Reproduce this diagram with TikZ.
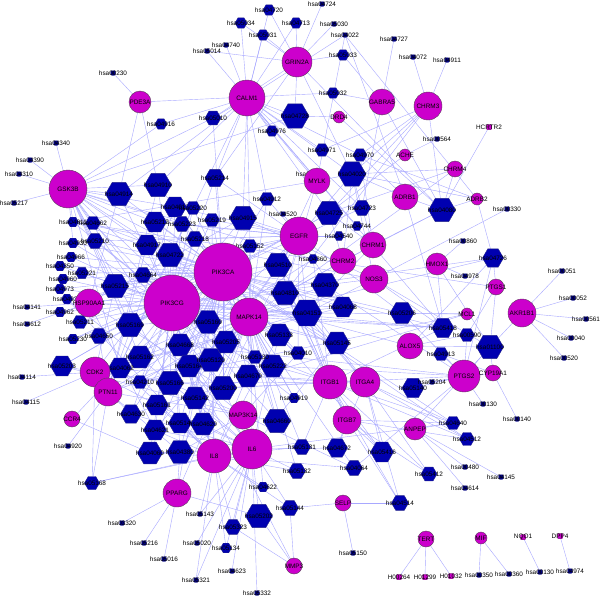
\documentclass[tikz,border=0pt]{standalone}
\usepackage{fontspec}
\setmainfont{Liberation Sans}
\usetikzlibrary{shapes.geometric}
\pgfdeclarelayer{bg}
\pgfsetlayers{bg,main}
\definecolor{gmag}{RGB}{204,0,204}
\definecolor{pblue}{RGB}{0,0,176}
\definecolor{sblue}{RGB}{0,0,130}
\definecolor{edgec}{RGB}{168,168,255}
\tikzset{
 gene/.style={circle,draw={rgb,255:red,90;green,60;blue,90},fill=gmag,line width=0.4pt,inner sep=0pt},
 pathw/.style={regular polygon,regular polygon sides=6,draw={rgb,255:red,40;green,40;blue,140},fill=pblue,line width=0.4pt,inner sep=0pt},
 dotb/.style={rectangle,rounded corners=1pt,fill=sblue,draw=sblue,minimum size=4.5pt,inner sep=0pt},
 dotm/.style={rectangle,rounded corners=1pt,fill=gmag,draw={rgb,255:red,90;green,60;blue,90},line width=0.3pt,minimum size=5.5pt,inner sep=0pt},
 lbl/.style={font=\fontsize{6.4}{7}\selectfont,text=black,inner sep=0pt},
 edge/.style={draw=edgec,line width=0.4pt},
}
\newcommand\gn[5]{\node[gene,minimum size=#4pt] (#1) at (#2,#3) {}; \node[lbl] at (#1.center) {#5};}
\newcommand\hx[5]{\node[pathw,minimum size=#4pt] (#1) at (#2,#3) {}; \node[lbl] at (#1.center) {#5};}
\newcommand\sd[4]{\node[dotb] (#1) at (#2,#3) {}; \node[lbl] at (#1.center) {#4};}
\newcommand\sm[4]{\node[dotm] (#1) at (#2,#3) {}; \node[lbl] at (#1.center) {#4};}
\newcommand\E[2]{\foreach \tg in {#2}{\draw[edge] (#1) -- (\tg);}}
\begin{document}
\begin{tikzpicture}[x=1pt,y=-1pt]
\useasboundingbox (0,0) rectangle (600,597);
% ---------- pathway hexagons ----------
\hx{h04910}{158}{185}{27}{hsa04910}
\hx{h04914}{119}{194}{27}{hsa04914}
\hx{h04916}{161}{124}{12}{hsa04916}
\hx{h04720}{269}{10}{12}{hsa04720}
\hx{h05034}{241}{23}{12}{hsa05034}
\hx{h04713}{296}{23}{12}{hsa04713}
\hx{h05031}{263}{35}{12}{hsa05031}
\hx{h05033}{343}{55}{12}{hsa05033}
\hx{h05032}{333}{93}{12}{hsa05032}
\hx{h04728}{295}{116}{28}{hsa04728}
\hx{h05010}{213}{118}{16}{hsa05010}
\hx{h04976}{272}{131}{12}{hsa04976}
\hx{h04971}{322}{150}{14}{hsa04971}
\hx{h04970}{360}{155}{14}{hsa04970}
\hx{h04020}{352}{174}{28}{hsa04020}
\hx{h05214}{215}{178}{20}{hsa05214}
\hx{h04912}{267}{199}{15}{hsa04912}
\hx{h04080}{442}{210}{27}{hsa04080}
\hx{h04726}{493}{258}{21}{hsa04726}
\hx{h05206}{402}{313}{24}{hsa05206}
\hx{h05418}{443}{328}{22}{hsa05418}
\hx{h00590}{467}{335}{15}{hsa00590}
\hx{h01100}{490}{347}{27}{hsa01100}
\hx{h04913}{441}{354}{15}{hsa04913}
\hx{h05140}{413}{388}{22}{hsa05140}
\hx{h04640}{453}{423}{15}{hsa04640}
\hx{h04512}{467}{439}{15}{hsa04512}
\hx{h05412}{429}{474}{16}{hsa05412}
\hx{h04514}{400}{503}{17}{hsa04514}
\hx{h04919}{294}{398}{11}{hsa04919}
\hx{h04660}{277}{421}{27}{hsa04660}
\hx{h05131}{302}{447}{17}{hsa05131}
\hx{h04672}{337}{448}{21}{hsa04672}
\hx{h05416}{382}{452}{23}{hsa05416}
\hx{h04064}{354}{468}{17}{hsa04064}
\hx{h05132}{297}{471}{17}{hsa05132}
\hx{h04622}{263}{487}{11}{hsa04622}
\hx{h05144}{290}{508}{17}{hsa05144}
\hx{h05202}{259}{516}{27}{hsa05202}
\hx{h05323}{233}{527}{17}{hsa05323}
\hx{h05134}{226}{548}{11}{hsa05134}
\hx{h04630}{131}{414}{21}{hsa04630}
\hx{h05161}{157}{405}{23}{hsa05161}
\hx{h04621}{155}{430}{23}{hsa04621}
\hx{h05146}{180}{423}{23}{hsa05146}
\hx{h04620}{203}{424}{25}{hsa04620}
\hx{h04060}{150}{453}{25}{hsa04060}
\hx{h04380}{180}{452}{26}{hsa04380}
\hx{h05168}{92}{483}{15}{hsa05168}
\hx{h05142}{195}{398}{25}{hsa05142}
\hx{h05200}{223}{388}{27}{hsa05200}
\hx{h04670}{248}{376}{25}{hsa04670}
\hx{h05222}{273}{366}{25}{hsa05222}
\hx{h05130}{255}{357}{15}{hsa05130}
\hx{h04010}{298}{353}{15}{hsa04010}
\hx{h05133}{279}{335}{25}{hsa05133}
\hx{h05145}{337}{343}{25}{hsa05145}
\hx{h04068}{343}{307}{23}{hsa04068}
\hx{h04151}{307}{313}{30}{hsa04151}
\hx{h04370}{325}{285}{27}{hsa04370}
\hx{h04810}{285}{293}{27}{hsa04810}
\hx{h04360}{313}{259}{10}{hsa04360}
\hx{h04510}{278}{265}{27}{hsa04510}
\hx{h05152}{250}{246}{15}{hsa05152}
\hx{h04725}{329}{213}{27}{hsa04725}
\hx{h04723}{362}{208}{17}{hsa04723}
\hx{h04744}{357}{226}{10}{hsa04744}
\hx{h04540}{339}{236}{10}{hsa04540}
\hx{h04915}{243}{218}{27}{hsa04915}
\hx{h05219}{212}{220}{15}{hsa05219}
\hx{h04012}{175}{207}{23}{hsa04012}
\hx{h05220}{193}{208}{15}{hsa05220}
\hx{h05212}{155}{222}{23}{hsa05212}
\hx{h05223}{182}{224}{17}{hsa05223}
\hx{h05218}{195}{239}{17}{hsa05218}
\hx{h04917}{147}{245}{23}{hsa04917}
\hx{h04722}{170}{255}{27}{hsa04722}
\hx{h04664}{143}{275}{17}{hsa04664}
\hx{h05215}{115}{286}{27}{hsa05215}
\hx{h04662}{93}{223}{15}{hsa04662}
\hx{h04611}{73}{222}{11}{hsa04611}
\hx{h05210}{95}{241}{17}{hsa05210}
\hx{h04930}{73}{243}{11}{hsa04930}
\hx{h04966}{71}{257}{11}{hsa04966}
\hx{h04350}{60}{266}{11}{hsa04350}
\hx{h05221}{82}{273}{13}{hsa05221}
\hx{h04960}{63}{279}{11}{hsa04960}
\hx{h04973}{60}{289}{11}{hsa04973}
\hx{h04933}{67}{299}{11}{hsa04933}
\hx{h04962}{60}{312}{11}{hsa04962}
\hx{h05211}{80}{322}{15}{hsa05211}
\hx{h05169}{130}{325}{27}{hsa05169}
\hx{h05230}{73}{339}{11}{hsa05230}
\hx{h04650}{99}{336}{17}{hsa04650}
\hx{h04668}{180}{345}{25}{hsa04668}
\hx{h05162}{140}{357}{25}{hsa05162}
\hx{h05203}{62}{366}{23}{hsa05203}
\hx{h04062}{120}{368}{23}{hsa04062}
\hx{h05164}{189}{366}{25}{hsa05164}
\hx{h04210}{140}{382}{15}{hsa04210}
\hx{h05166}{170}{383}{27}{hsa05166}
\hx{h05120}{211}{360}{26}{hsa05120}
\hx{h05205}{226}{342}{25}{hsa05205}
\hx{h05160}{208}{322}{26}{hsa05160}
% ---------- small pathway nodes ----------
\sd{s00230}{113}{73}{hsa00230}
\sd{s04340}{56}{143}{hsa04340}
\sd{s04390}{30}{160}{hsa04390}
\sd{s04310}{19}{174}{hsa04310}
\sd{s05217}{14}{203}{hsa05217}
\sd{s04724}{322}{4}{hsa04724}
\sd{s05030}{334}{24}{hsa05030}
\sd{s04022}{345}{35}{hsa04022}
\sd{s04740}{226}{45}{hsa04740}
\sd{s05014}{207}{51}{hsa05014}
\sd{s04727}{394}{39}{hsa04727}
\sd{s04072}{413}{57}{hsa04072}
\sd{s04911}{447}{60}{hsa04911}
\sd{s00564}{437}{139}{hsa00564}
\sd{s00330}{507}{209}{hsa00330}
\sd{s00860}{463}{241}{hsa00860}
\sd{s04978}{465}{276}{hsa04978}
\sd{s00051}{562}{271}{hsa00051}
\sd{s00052}{573}{298}{hsa00052}
\sd{s00561}{586}{319}{hsa00561}
\sd{s00040}{571}{338}{hsa00040}
\sd{s00520}{564}{358}{hsa00520}
\sd{s05204}{432}{382}{hsa05204}
\sd{s04130}{483}{404}{hsa00130}
\sd{s00140}{517}{419}{hsa00140}
\sd{s00480}{465}{467}{hsa00480}
\sd{s04145}{501}{477}{hsa04145}
\sd{s04614}{465}{488}{hsa04614}
\sd{s00350}{479}{575}{hsa00350}
\sd{s00360}{509}{574}{hsa00360}
\sd{s00130}{540}{572}{hsa00130}
\sd{s04974}{570}{571}{hsa04974}
\sd{s05150}{353}{553}{hsa05150}
\sd{s05332}{257}{593}{hsa05332}
\sd{s04623}{232}{571}{hsa04623}
\sd{s05321}{196}{580}{hsa05321}
\sd{s05020}{197}{543}{hsa05020}
\sd{s05143}{200}{514}{hsa05143}
\sd{s03320}{122}{523}{hsa03320}
\sd{s05216}{144}{543}{hsa05216}
\sd{s05016}{164}{559}{hsa05016}
\sd{s04920}{68}{446}{hsa04920}
\sd{s04115}{26}{402}{hsa04115}
\sd{s04114}{22}{377}{hsa04114}
\sd{s04612}{27}{324}{hsa04612}
\sd{s04141}{27}{307}{hsa04141}
\sd{s04520}{283}{214}{hsa04520}
\sd{s04270}{310}{174}{hsa04270}
% ---------- small magenta nodes ----------
\sm{hcrtr2}{489}{127}{HCRTR2}
\sm{nqo1}{523}{537}{NQO1}
\sm{dpp4}{560}{536}{DPP4}
\sm{h264}{399}{577}{H00264}
\sm{h1299}{425}{577}{H01299}
\sm{h1032}{451}{576}{H01032}
% ---------- genes ----------
\gn{pik3ca}{223}{272}{58}{PIK3CA}
\gn{pik3cg}{172}{303}{56}{PIK3CG}
\gn{mapk14}{249}{317}{38}{MAPK14}
\gn{egfr}{299}{236}{38}{EGFR}
\gn{chrm2}{343}{261}{26}{CHRM2}
\gn{chrm1}{373}{245}{26}{CHRM1}
\gn{nos3}{374}{279}{28}{NOS3}
\gn{itgb1}{330}{382}{34}{ITGB1}
\gn{itga4}{365}{382}{30}{ITGA4}
\gn{calm1}{247}{98}{36}{CALM1}
\gn{grin2a}{297}{62}{30}{GRIN2A}
\gn{gabra5}{382}{102}{26}{GABRA5}
\gn{drd4}{339}{117}{12}{DRD4}
\gn{mylk}{317}{181}{26}{MYLK}
\gn{pde3a}{140}{102}{22}{PDE3A}
\gn{gsk3b}{68}{189}{38}{GSK3B}
\gn{chrm3}{428}{106}{28}{CHRM3}
\gn{ache}{405}{155}{12}{ACHE}
\gn{chrm4}{455}{169}{16}{CHRM4}
\gn{adrb1}{405}{197}{26}{ADRB1}
\gn{adrb2}{477}{199}{12}{ADRB2}
\gn{hsp}{89}{303}{28}{HSP90AA1}
\gn{cdk2}{95}{372}{30}{CDK2}
\gn{ptn}{108}{392}{28}{PTN11}
\gn{ccr4}{72}{419}{16}{CCR4}
\gn{pparg}{177}{493}{28}{PPARG}
\gn{map3k}{243}{415}{28}{MAP3K14}
\gn{il6}{252}{449}{40}{IL6}
\gn{il8}{214}{456}{34}{IL8}
\gn{itgb7}{347}{420}{28}{ITGB7}
\gn{selp}{343}{503}{16}{SELP}
\gn{mmp3}{294}{566}{16}{MMP3}
\gn{tert}{426}{539}{16}{TERT}
\gn{mif}{481}{538}{12}{MIF}
\gn{anpep}{415}{429}{22}{ANPEP}
\gn{ptgs2}{464}{376}{32}{PTGS2}
\gn{cyp}{493}{373}{16}{CYP19A1}
\gn{alox5}{410}{346}{26}{ALOX5}
\gn{akr}{522}{313}{28}{AKR1B1}
\gn{ptgs1}{496}{287}{16}{PTGS1}
\gn{mcl1}{467}{314}{12}{MCL1}
\gn{hmox1}{437}{264}{22}{HMOX1}
% ---------- connectors ----------
\begin{pgfonlayer}{bg}
\fill[white] (0,0) rectangle (600,597);
\E{pik3ca}{h04910,h04914,h04012,h05220,h05212,h05223,h05218,h04917,h04722,h04664,h05215,h05214,h04915,h05219,h05152,h04510,h04810,h04370,h04151,h04068,h05133,h05145,h04010,h05130,h05222,h04670,h05200,h05205,h05160,h05120,h05164,h05166,h04668,h05162,h05169,h04062,h04210,h05142,h05161,h04630,h04660,h04620,h04650,h04662,h05210,h05211,h04960,h04973,h04933,h04930,h04611,h04919,h04380,h04060,h04725,h04723,h04912,h05418,h05206,h05146,h05221,h05203,h04640,h04512,h05416,h05010,h04966,h04350,h04962,h05230}
\E{pik3cg}{h04910,h04914,h04012,h05220,h05212,h05223,h05218,h04917,h04722,h04664,h05215,h04915,h04510,h04810,h04370,h04151,h04068,h05133,h05145,h05222,h04670,h05200,h05205,h05160,h05120,h05164,h05166,h04668,h05162,h05169,h04062,h04210,h05142,h05161,h04630,h04660,h04650,h04662,h05210,h05211,h04960,h04973,h04933,h04930,h04611,h04966,h04350,h05221,h04962,h05230,h05203,h04620,h04621,h05146,h04380,h04060,h04726,h04725,h05418,h04919,h05152,h05219,h05214}
\E{mapk14}{h04010,h04370,h04151,h04068,h05133,h05145,h04660,h04620,h04621,h04380,h05142,h05152,h04912,h04917,h04722,h04664,h05169,h05164,h05160,h05120,h05205,h04668,h05166,h05162,h04210,h05418,h04726,h05131,h05132,h05130,h04670,h04919,h04064,h04622,h04810,h05200}
\E{egfr}{h04012,h05212,h05223,h05218,h05219,h04915,h05214,h05152,h04510,h04810,h04151,h04068,h05120,h04010,h04540,s04520,h04360,h05206,h04912,h05200,h05205,h05160,h05210,h05215,h04020}
\E{calm1}{h05034,h04720,h05031,s04740,s05014,h04713,h04728,h05010,h04976,h04971,h04970,h04020,h05214,h04912,h04916,h04910,h04914,h04722,h04915,h04725,h04744,h05152,h05418,h04723,s04270,s04022}
\E{grin2a}{s04724,h04720,h04713,h05031,h05034,s05030,h05033,h04728,s05014,h05010,h04020,h05214,h04080}
\E{gabra5}{s04727,h05033,h05032,h04080,h04723}
\E{drd4}{h04728,h04080}
\E{mylk}{h04020,s04022,h04810,h04510,s04270,h04611}
\E{pde3a}{s00230,h04910,h04914,h05032}
\E{gsk3b}{s04340,s04390,s04310,s05217,h04916,h04910,h04914,h04012,h05212,h05223,h05210,h04917,h04722,h05215,h04662,h04611,h04930,h05160,h05169,h05162,h05164,h04062,h05166,h05010,h04151,h05200,h04360,h04728}
\E{chrm1}{h04080,h04020,h04725,h04810,h04970,h04151}
\E{chrm2}{h04080,h04020,h04725,h04810,h04151}
\E{chrm3}{s04072,s04911,h04080,h04020,h04725,h04810,h04970,h04971}
\E{chrm4}{h04080,h04020,h04725,h04810}
\E{ache}{s00564,h04725}
\E{hcrtr2}{h04080}
\E{adrb1}{h04080,h04020,h04970,s04022,h05418}
\E{adrb2}{h04080,h04020,h04970,s04022,h04726}
\E{nos3}{s00330,h04370,h04151,h04020,h05418,h04915,h01100,h04611}
\E{hmox1}{s00860,s04978,h05418,h01100}
\E{mcl1}{h05206,h04151,h04210,h04630}
\E{alox5}{h00590,h01100,h04726,h04664}
\E{ptgs2}{h00590,h01100,h04726,h04913,h05140,s05204,h04064,h04668,h05206,h05222,h05200,h04370,s04130}
\E{ptgs1}{h00590,h01100,h04726,h04611}
\E{cyp}{s00140,h04913,h01100,s05204}
\E{akr}{s00051,s00052,s00561,s00040,s00520,h01100}
\E{itgb1}{h04510,h04810,h04151,h04640,h04512,h05412,h05416,h04514,h04670,h05222,h05200,h05205,h05131,h04360,h05418}
\E{itga4}{h04510,h04810,h04151,h04640,h04512,h05412,h05416,h04514,h04670,h05166,h04672}
\E{itgb7}{h04512,h05412,h05416,h04514,h04672,h04810,h04151,h04640,h04510}
\E{anpep}{h04640,s00480,s04614,s04145,h01100}
\E{hsp}{s04141,s04612,h05215,h04151,h04915,h04914,h05200,h04621,h05418}
\E{cdk2}{s04114,s04115,h05203,h05162,h05161,h05169,h05200,h05215,h05222,h04151,h04068,h05166,h05168,h05160}
\E{ptn}{s04920,h04630,h04062,h04660,h04722,h05120,h04910,h04917,h04380,h04650,h05205,h05220,h05168,h04012,h04360}
\E{ccr4}{h04060,h04062}
\E{pparg}{s03320,s05216,s05016,h04380,h05202,h05200,h05160}
\E{map3k}{h04010,h04064,h04380,h05169,h05166,h05203}
\E{il6}{s05143,s05020,h05134,s04623,s05321,s05332,h05323,h05202,h05144,h05132,h04620,h04621,h04060,h04630,h04668,h05142,h05152,h05161,h05164,h05200,h05133,h05145,h04933,h04672,h04640,h05168}
\E{il8}{s05143,s05321,h05134,h04622,h05144,h05132,h05131,h04620,h04621,h04060,h04062,h05146,h05142,h05161,h05164,h05120,h05133,h05323,h04064,h04668,h04933,h05168,h05130,h05219}
\E{mmp3}{h05202,h05144,h05323,h04668}
\E{selp}{h05144,s05150,h04514}
\E{tert}{h264,h1299,h1032}
\E{mif}{s00350,s00360}
\E{nqo1}{s00130}
\E{dpp4}{s04974}
\end{pgfonlayer}
\end{tikzpicture}
\end{document}
